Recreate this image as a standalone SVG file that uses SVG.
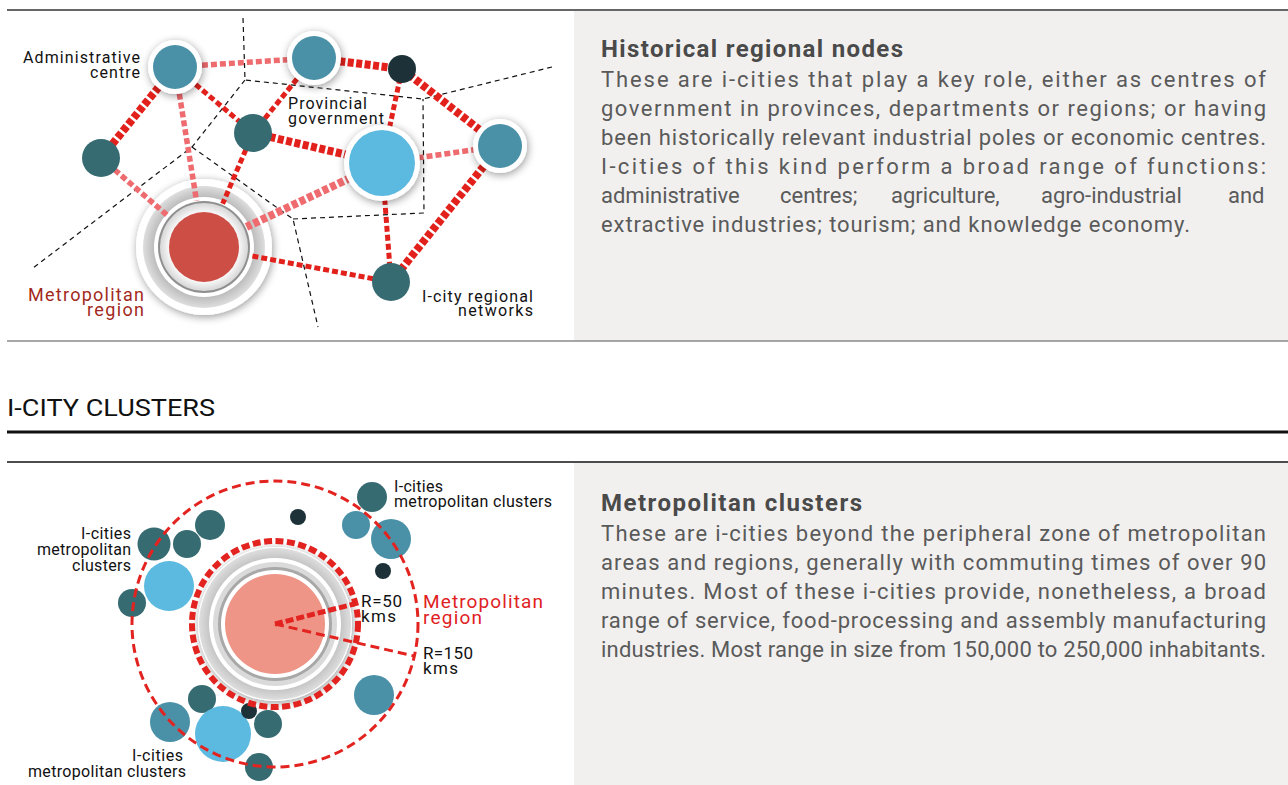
<svg xmlns="http://www.w3.org/2000/svg" width="1288" height="785" viewBox="0 0 1288 785">
<defs>
  <filter id="sh" x="-50%" y="-50%" width="200%" height="200%">
    <feGaussianBlur in="SourceAlpha" stdDeviation="4"/>
    <feOffset dx="1" dy="2"/>
    <feComponentTransfer><feFuncA type="linear" slope="0.4"/></feComponentTransfer>
    <feMerge><feMergeNode/><feMergeNode in="SourceGraphic"/></feMerge>
  </filter>
  <radialGradient id="band" cx="50%" cy="50%" r="50%">
    <stop offset="0.8" stop-color="#b9b9b9"/>
    <stop offset="1" stop-color="#dedede"/>
  </radialGradient>
  <radialGradient id="inner" cx="50%" cy="50%" r="50%">
    <stop offset="0.75" stop-color="#ffffff"/>
    <stop offset="1" stop-color="#d6d6d6"/>
  </radialGradient>
  <style>
    .lbl{font-family:Roboto,"Liberation Sans",sans-serif;font-size:16px;fill:#111}
    .hd{font-family:Roboto,"Liberation Sans",sans-serif;font-size:24px;font-weight:bold;fill:#4a4a4a}
    .bd{font-family:Roboto,"Liberation Sans",sans-serif;font-size:22px;fill:#5a5a5a}
    .thick{fill:none;stroke:#e3211c;stroke-width:8;stroke-dasharray:6 2.5}
    .med{fill:none;stroke:#e3211c;stroke-width:5;stroke-dasharray:6 3}
    .pink{fill:none;stroke:#ee6b6f;stroke-width:5.5;stroke-dasharray:6 3}
    .pinkt{fill:none;stroke:#ee6b6f;stroke-width:8;stroke-dasharray:6 2.5}
    .bdash{fill:none;stroke:#111;stroke-width:1.2;stroke-dasharray:5 4}
    .tb{fill:#4a91a8}.dt{fill:#366b72}.dk{fill:#1c3238}.lb{fill:#5cb9df}
  </style>
</defs>
<rect width="1288" height="785" fill="#ffffff"/>
<!-- panels and rules -->
<rect x="574" y="11" width="714" height="330" fill="#f1f0ef"/>
<rect x="574" y="463" width="714" height="322" fill="#f1f0ef"/>
<line x1="7" y1="10" x2="1288" y2="10" stroke="#333" stroke-width="1.5"/>
<line x1="7" y1="341" x2="1288" y2="341" stroke="#8a8a8a" stroke-width="1.5"/>
<text x="7" y="416" font-family="Roboto,'Liberation Sans',sans-serif" font-size="24" fill="#111" textLength="208" lengthAdjust="spacingAndGlyphs">I-CITY CLUSTERS</text>
<line x1="7" y1="432" x2="1288" y2="432" stroke="#111" stroke-width="3"/>
<line x1="7" y1="462" x2="1288" y2="462" stroke="#111" stroke-width="1.5"/>

<!-- TOP DIAGRAM -->
<g id="boundaries">
  <polyline class="bdash" points="243,18 245,80 423,99 552,67"/>
  <polyline class="bdash" points="245,80 192,147 33,268"/>
  <polyline class="bdash" points="192,147 293,219 318,327"/>
  <polyline class="bdash" points="293,219 424,213 423,99"/>
</g>
<g id="metro-top">
  <circle cx="204" cy="247" r="68" fill="#fff" filter="url(#sh)"/>
  <circle cx="204" cy="247" r="61" fill="url(#band)"/>
  <circle cx="204" cy="247" r="50" fill="#fff"/>
  <circle cx="204" cy="247" r="46" fill="#8f8f8f"/>
  <circle cx="204" cy="247" r="44" fill="url(#inner)"/>
</g>
<g id="connectors">
  <line class="pink" x1="175" y1="67" x2="314" y2="58"/>
  <line class="thick" x1="175" y1="67" x2="101" y2="158"/>
  <line class="med" x1="175" y1="67" x2="253" y2="133"/>
  <line class="pink" x1="175" y1="67" x2="196.5" y2="200.6"/>
  <line class="thick" x1="314" y1="58" x2="402" y2="69"/>
  <line class="med" x1="314" y1="58" x2="253" y2="133"/>
  <line class="med" x1="402" y1="69" x2="382" y2="163"/>
  <line class="thick" x1="402" y1="69" x2="500" y2="146"/>
  <line class="thick" x1="253" y1="133" x2="382" y2="163"/>
  <line class="med" x1="253" y1="133" x2="222.6" y2="203.8"/>
  <line class="pink" x1="101" y1="158" x2="168.4" y2="216.3"/>
  <line class="pink" x1="382" y1="163" x2="500" y2="146"/>
  <line class="pinkt" x1="382" y1="163" x2="246.5" y2="226.9"/>
  <line class="med" x1="382" y1="163" x2="391" y2="282"/>
  <line class="thick" x1="500" y1="146" x2="391" y2="282"/>
  <line class="med" x1="391" y1="282" x2="250" y2="255.6"/>
</g>
<g id="metro-core">
  <circle cx="204" cy="247" r="35" fill="#cd4e45"/>
</g>
<g id="admin-centre">
  <circle cx="175" cy="67" r="27" fill="#fff" filter="url(#sh)"/>
  <circle cx="175" cy="67" r="22" class="tb"/>
</g>
<g id="top-node">
  <circle cx="314" cy="58" r="27" fill="#fff" filter="url(#sh)"/>
  <circle cx="314" cy="58" r="22" class="tb"/>
</g>
<g id="right-node">
  <circle cx="500" cy="146" r="27" fill="#fff" filter="url(#sh)"/>
  <circle cx="500" cy="146" r="22" class="tb"/>
</g>
<g id="provincial">
  <circle cx="382" cy="163" r="38" fill="#fff" filter="url(#sh)"/>
  <circle cx="382" cy="163" r="33" class="lb"/>
</g>
<g id="dark-node"><circle cx="402" cy="69" r="14" class="dk"/></g>
<g id="mid-node"><circle cx="253" cy="133" r="19" class="dt"/></g>
<g id="left-node"><circle cx="101" cy="158" r="19" class="dt"/></g>
<g id="network-node"><circle cx="391" cy="282" r="19" class="dt"/></g>

<g id="top-labels">
  <text class="lbl" x="140" y="63" text-anchor="end" textLength="117" lengthAdjust="spacing">Administrative</text>
  <text class="lbl" x="140" y="78" text-anchor="end" textLength="50" lengthAdjust="spacing">centre</text>
  <text class="lbl" x="288" y="109" textLength="79" lengthAdjust="spacing">Provincial</text>
  <text class="lbl" x="288" y="124" textLength="96" lengthAdjust="spacing">government</text>
  <text class="lbl" x="144" y="301" text-anchor="end" style="font-size:18px;fill:#a3291d" textLength="116" lengthAdjust="spacing">Metropolitan</text>
  <text class="lbl" x="144" y="316" text-anchor="end" style="font-size:18px;fill:#a3291d" textLength="57" lengthAdjust="spacing">region</text>
  <text class="lbl" x="422" y="302" textLength="111" lengthAdjust="spacing">I-city regional</text>
  <text class="lbl" x="533" y="316" text-anchor="end" textLength="75" lengthAdjust="spacing">networks</text>
</g>

<g id="text-historical">
  <text class="hd" x="601" y="57" textLength="302" lengthAdjust="spacing">Historical regional nodes</text>
  <text class="bd" x="601" y="87" textLength="665" lengthAdjust="spacing">These are i-cities that play a key role, either as centres of</text>
  <text class="bd" x="601" y="116" textLength="665" lengthAdjust="spacing">government in provinces, departments or regions; or having</text>
  <text class="bd" x="601" y="145" textLength="665" lengthAdjust="spacing">been historically relevant industrial poles or economic centres.</text>
  <text class="bd" x="601" y="174" textLength="665" lengthAdjust="spacing">I-cities of this kind perform a broad range of functions:</text>
  <text class="bd" y="203"><tspan x="601">administrative</tspan><tspan x="780">centres;</tspan><tspan x="891">agriculture,</tspan><tspan x="1041">agro-industrial</tspan><tspan x="1228">and</tspan></text>
  <text class="bd" x="601" y="232" textLength="589" lengthAdjust="spacing">extractive industries; tourism; and knowledge economy.</text>
</g>

<!-- BOTTOM DIAGRAM -->
<g id="clusters">
  <circle cx="154" cy="544" r="16.5" class="dt"/>
  <circle cx="187" cy="544" r="14" class="dt"/>
  <circle cx="210" cy="525" r="15" class="dt"/>
  <circle cx="132" cy="603" r="14" class="dt"/>
  <circle cx="372" cy="497" r="15" class="dt"/>
  <circle cx="202" cy="699" r="14" class="dt"/>
  <circle cx="268" cy="724" r="14" class="dt"/>
  <circle cx="259" cy="767" r="14" class="dt"/>
  <circle cx="356" cy="525" r="14" class="tb"/>
  <circle cx="391" cy="539" r="20" class="tb"/>
  <circle cx="170" cy="722" r="20" class="tb"/>
  <circle cx="374" cy="695" r="20" class="tb"/>
  <circle cx="169" cy="586" r="25" class="lb"/>
  <circle cx="223" cy="734" r="28" class="lb"/>
  <circle cx="298" cy="517" r="8" class="dk"/>
  <circle cx="383" cy="571" r="8" class="dk"/>
  <circle cx="249" cy="711" r="8" class="dk"/>
</g>
<g id="metro-bottom">
  <circle cx="275" cy="624" r="77" fill="#fff" filter="url(#sh)"/>
  <circle cx="275" cy="624" r="76" fill="url(#band)"/>
  <circle cx="275" cy="624" r="66" fill="#fff"/>
  <circle cx="275" cy="624" r="62" fill="#dadada"/>
  <circle cx="275" cy="624" r="57" fill="#a8a8a8"/>
  <circle cx="275" cy="624" r="54" fill="#fff"/>
  <circle cx="275" cy="624" r="50" fill="#ee9587"/>
  <circle cx="275" cy="624" r="83" fill="none" stroke="#e2231f" stroke-width="6" stroke-dasharray="8 3.5"/>
  <circle cx="275" cy="624" r="143" fill="none" stroke="#e2231f" stroke-width="3" stroke-dasharray="9 5"/>
  <line x1="275" y1="624" x2="354" y2="604" stroke="#e2231f" stroke-width="5" stroke-dasharray="8 3"/>
  <line x1="275" y1="624" x2="414" y2="656" stroke="#e2231f" stroke-width="3" stroke-dasharray="9 5"/>
</g>
<g id="bottom-labels">
  <text class="lbl" x="131" y="539" text-anchor="end" textLength="50" lengthAdjust="spacing">I-cities</text>
  <text class="lbl" x="131" y="555" text-anchor="end" textLength="94" lengthAdjust="spacing">metropolitan</text>
  <text class="lbl" x="131" y="571" text-anchor="end" textLength="59" lengthAdjust="spacing">clusters</text>
  <text class="lbl" x="394" y="492" textLength="49" lengthAdjust="spacing">I-cities</text>
  <text class="lbl" x="394" y="507" textLength="158" lengthAdjust="spacing">metropolitan clusters</text>
  <text class="lbl" x="183" y="761" text-anchor="end" textLength="51" lengthAdjust="spacing">I-cities</text>
  <text class="lbl" x="186" y="777" text-anchor="end" textLength="158" lengthAdjust="spacing">metropolitan clusters</text>
  <text class="lbl" x="361" y="607" style="font-size:17px" textLength="41" lengthAdjust="spacing">R=50</text>
  <text class="lbl" x="361" y="622" style="font-size:17px" textLength="35" lengthAdjust="spacing">kms</text>
  <text class="lbl" x="423" y="659" style="font-size:17px" textLength="50" lengthAdjust="spacing">R=150</text>
  <text class="lbl" x="423" y="674" style="font-size:17px" textLength="35" lengthAdjust="spacing">kms</text>
  <text class="lbl" x="423" y="608" style="font-size:19px;fill:#e0221f" textLength="120" lengthAdjust="spacing">Metropolitan</text>
  <text class="lbl" x="423" y="624" style="font-size:19px;fill:#e0221f" textLength="59" lengthAdjust="spacing">region</text>
</g>

<g id="text-metropolitan">
  <text class="hd" x="601" y="511" textLength="261" lengthAdjust="spacing">Metropolitan clusters</text>
  <text class="bd" x="601" y="541" textLength="665" lengthAdjust="spacing">These are i-cities beyond the peripheral zone of metropolitan</text>
  <text class="bd" x="601" y="570" textLength="665" lengthAdjust="spacing">areas and regions, generally with commuting times of over 90</text>
  <text class="bd" x="601" y="599" textLength="665" lengthAdjust="spacing">minutes. Most of these i-cities provide, nonetheless, a broad</text>
  <text class="bd" x="601" y="628" textLength="665" lengthAdjust="spacing">range of service, food-processing and assembly manufacturing</text>
  <text class="bd" x="601" y="657" textLength="665" lengthAdjust="spacing">industries. Most range in size from 150,000 to 250,000 inhabitants.</text>
</g>
</svg>
